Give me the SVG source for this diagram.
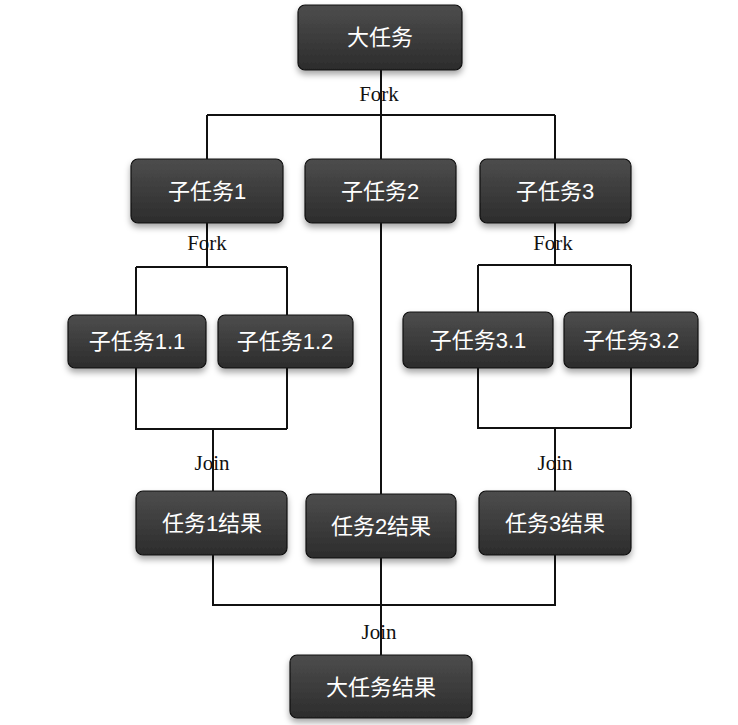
<svg xmlns="http://www.w3.org/2000/svg" width="738" height="725" viewBox="0 0 738 725">
<style>
.box{fill:url(#g);stroke:#111;stroke-width:1.2;filter:url(#sh)}
.t{font-family:"Liberation Sans","Noto Sans CJK SC",sans-serif;font-size:22px;fill:#fff;text-anchor:middle}
.lb{font-family:"Liberation Serif","DejaVu Serif",serif;font-size:21px;fill:#111;text-anchor:middle}
.c{fill:none;stroke:#111;stroke-width:2}
</style>
<defs>
<linearGradient id="g" x1="0" y1="0" x2="0" y2="1">
<stop offset="0" stop-color="#4d4d4d"/>
<stop offset="1" stop-color="#2c2c2c"/>
</linearGradient>
<filter id="sh" x="-20%" y="-20%" width="140%" height="160%">
<feDropShadow dx="0" dy="4" stdDeviation="3" flood-color="#000" flood-opacity="0.35"/>
</filter>
</defs>
<rect width="738" height="725" fill="#fff"/>
<g id="labels">
<text class="lb" x="379" y="101">Fork</text>
<text class="lb" x="207" y="250">Fork</text>
<text class="lb" x="553" y="250">Fork</text>
<text class="lb" x="212" y="470">Join</text>
<text class="lb" x="555" y="470">Join</text>
<text class="lb" x="379" y="639">Join</text>
</g>
<g id="connectors">
<path class="c" d="M381 70V159M207 115H555M207 115V159M555 115V159"/>
<path class="c" d="M207 223V267M136 267H287M136 267V315M287 267V315"/>
<path class="c" d="M136 368V429H287M287 368V429M213 429V491"/>
<path class="c" d="M555 223V265M478 265H631M478 265V312M631 265V312"/>
<path class="c" d="M478 368V428H631M631 368V428M555 428V491"/>
<path class="c" d="M381 223V494M381 558V655M213 555V605H555V555"/>
</g>
<g id="n0"><rect class="box" x="298" y="5" width="164" height="65" rx="7"/><text class="t" x="380" y="45">大任务</text></g>
<g id="n1"><rect class="box" x="131" y="159" width="152" height="64" rx="7"/><text class="t" x="207" y="199">子任务1</text></g>
<g id="n2"><rect class="box" x="305" y="159" width="151" height="64" rx="7"/><text class="t" x="380" y="199">子任务2</text></g>
<g id="n3"><rect class="box" x="480" y="159" width="151" height="64" rx="7"/><text class="t" x="555" y="199">子任务3</text></g>
<g id="n11"><rect class="box" x="68" y="315" width="138" height="53" rx="7"/><text class="t" x="137" y="349">子任务1.1</text></g>
<g id="n12"><rect class="box" x="218" y="315" width="135" height="53" rx="7"/><text class="t" x="285" y="349">子任务1.2</text></g>
<g id="n31"><rect class="box" x="403" y="312" width="150" height="56" rx="7"/><text class="t" x="478" y="348">子任务3.1</text></g>
<g id="n32"><rect class="box" x="564" y="312" width="134" height="56" rx="7"/><text class="t" x="631" y="348">子任务3.2</text></g>
<g id="r1"><rect class="box" x="136" y="491" width="151" height="64" rx="7"/><text class="t" x="212" y="531">任务1结果</text></g>
<g id="r2"><rect class="box" x="306" y="494" width="150" height="64" rx="7"/><text class="t" x="381" y="534">任务2结果</text></g>
<g id="r3"><rect class="box" x="479" y="491" width="152" height="64" rx="7"/><text class="t" x="555" y="531">任务3结果</text></g>
<g id="rf"><rect class="box" x="290" y="655" width="182" height="63" rx="7"/><text class="t" x="381" y="695">大任务结果</text></g>
</svg>
